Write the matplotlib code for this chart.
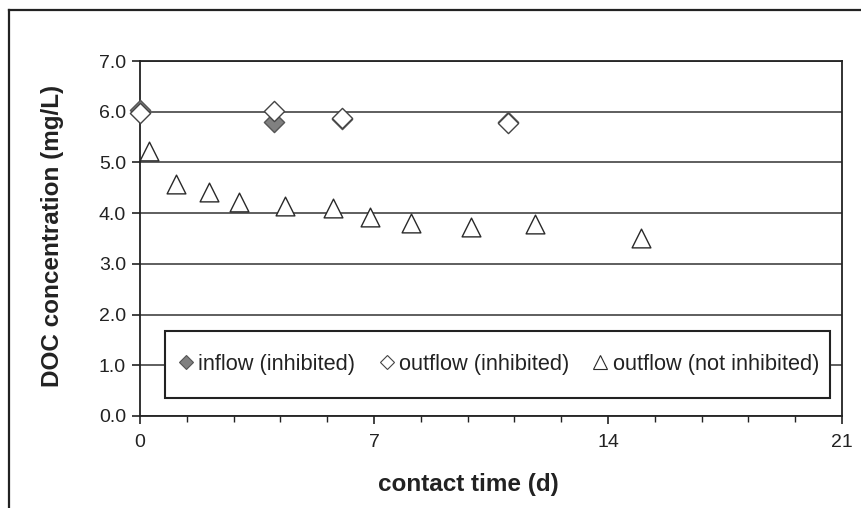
import matplotlib
matplotlib.use("Agg")
import matplotlib.pyplot as plt
from matplotlib.lines import Line2D
from matplotlib.patches import Rectangle
from matplotlib.ticker import MultipleLocator, FixedLocator

plt.rcParams['font.family'] = ['Liberation Sans', 'DejaVu Sans']

# Data
inflow_x = [0.0, 4.0, 6.05, 11.0]
inflow_y = [6.03, 5.80, 5.86, 5.80]
outflow_inh_x = [0.0, 4.0, 6.05, 11.0]
outflow_inh_y = [5.98, 6.02, 5.88, 5.78]
outflow_not_x = [0.28, 1.08, 2.06, 2.97, 4.34, 5.76, 6.89, 8.11, 9.89, 11.83, 15.0]
outflow_not_y = [5.23, 4.58, 4.41, 4.21, 4.15, 4.10, 3.92, 3.81, 3.72, 3.78, 3.51]

labels = ["inflow (inhibited)", "outflow (inhibited)", "outflow (not inhibited)"]
xticks = [0, 7, 14, 21]
yticks = [0, 1, 2, 3, 4, 5, 6, 7]

fig = plt.figure(figsize=(8.61, 5.08), dpi=100)
ax = fig.add_axes([140/861, 1-416/508, 702/861, 355/508])

edge = '#2a2a2a'
ax.scatter(outflow_not_x, outflow_not_y, marker='^', s=13.5**2, facecolor='white',
           edgecolor=edge, linewidth=1.0, zorder=3, clip_on=False)
ax.scatter(inflow_x, inflow_y, marker='D', s=10.3**2, facecolor='#808080',
           edgecolor='#555555', linewidth=1.0, zorder=4, clip_on=False)
ax.scatter(outflow_inh_x, outflow_inh_y, marker='D', s=10.3**2, facecolor='white',
           edgecolor='#444444', linewidth=1.0, zorder=5, clip_on=False)

ax.set_xlim(0, 21)
ax.set_ylim(0, 7)
ax.xaxis.set_major_locator(FixedLocator(xticks))
ax.xaxis.set_minor_locator(MultipleLocator(1.4))
ax.yaxis.set_major_locator(FixedLocator(yticks))
ax.set_yticklabels([f"{v:.1f}" for v in yticks])
ax.set_xticklabels([str(v) for v in xticks])

ax.grid(axis='y', color='#333333', linewidth=1.1, zorder=1)
ax.set_axisbelow(True)
for s in ax.spines.values():
    s.set_color('#222222')
    s.set_linewidth(1.3)
ax.tick_params(axis='both', which='major', direction='out', length=6, width=1.2,
               color='#222222', labelsize=14, labelcolor='#222222')
ax.tick_params(axis='y', pad=4)
ax.tick_params(axis='x', pad=7)
ax.tick_params(axis='x', which='minor', direction='out', length=4, width=1.0, color='#222222')

ax.set_xlabel("contact time (d)", fontsize=17.5, fontweight='bold', color='#222222')
ax.set_ylabel("DOC concentration (mg/L)", fontsize=17.5, fontweight='bold', color='#222222')
ax.xaxis.set_label_coords((468-140)/702, (416-485)/355)
ax.xaxis.label.set_va('center')
ax.yaxis.set_label_coords((53-140)/702, (416-236)/355)
ax.yaxis.label.set_va('center')

# legend box
lx0, ly0 = (165-140)/702, (416-398)/355
lw, lh = (830-165)/702, (398-331)/355
box = Rectangle((lx0, ly0), lw, lh, transform=ax.transAxes, facecolor='white',
                edgecolor='#222222', linewidth=1.5, zorder=6)
ax.add_patch(box)

handles = [
    Line2D([], [], linestyle='none', marker='D', markersize=7, markerfacecolor='#808080',
           markeredgecolor='#555555', markeredgewidth=0.8),
    Line2D([], [], linestyle='none', marker='D', markersize=7, markerfacecolor='white',
           markeredgecolor='#444444', markeredgewidth=0.8),
    Line2D([], [], linestyle='none', marker='^', markersize=10, markerfacecolor='white',
           markeredgecolor=edge, markeredgewidth=0.8),
]
leg = ax.legend(handles, labels, ncol=3, loc='center', mode='expand',
                bbox_to_anchor=(lx0, ly0, lw, lh),
                fontsize=15.7, frameon=False, handlelength=0.93,
                handletextpad=0.1, borderpad=0.5, borderaxespad=0,
                columnspacing=1.0)
leg.set_zorder(7)
for t in leg.get_texts():
    t.set_color('#222222')

# outer frame (top and left edges visible)
fig.add_artist(Line2D([9/861, 9/861], [0, 1-10/508], transform=fig.transFigure,
                      color='#222222', linewidth=1.6))
fig.add_artist(Line2D([9/861, 1], [1-10/508, 1-10/508], transform=fig.transFigure,
                      color='#222222', linewidth=1.6))

fig.savefig("out.png", dpi=100)
